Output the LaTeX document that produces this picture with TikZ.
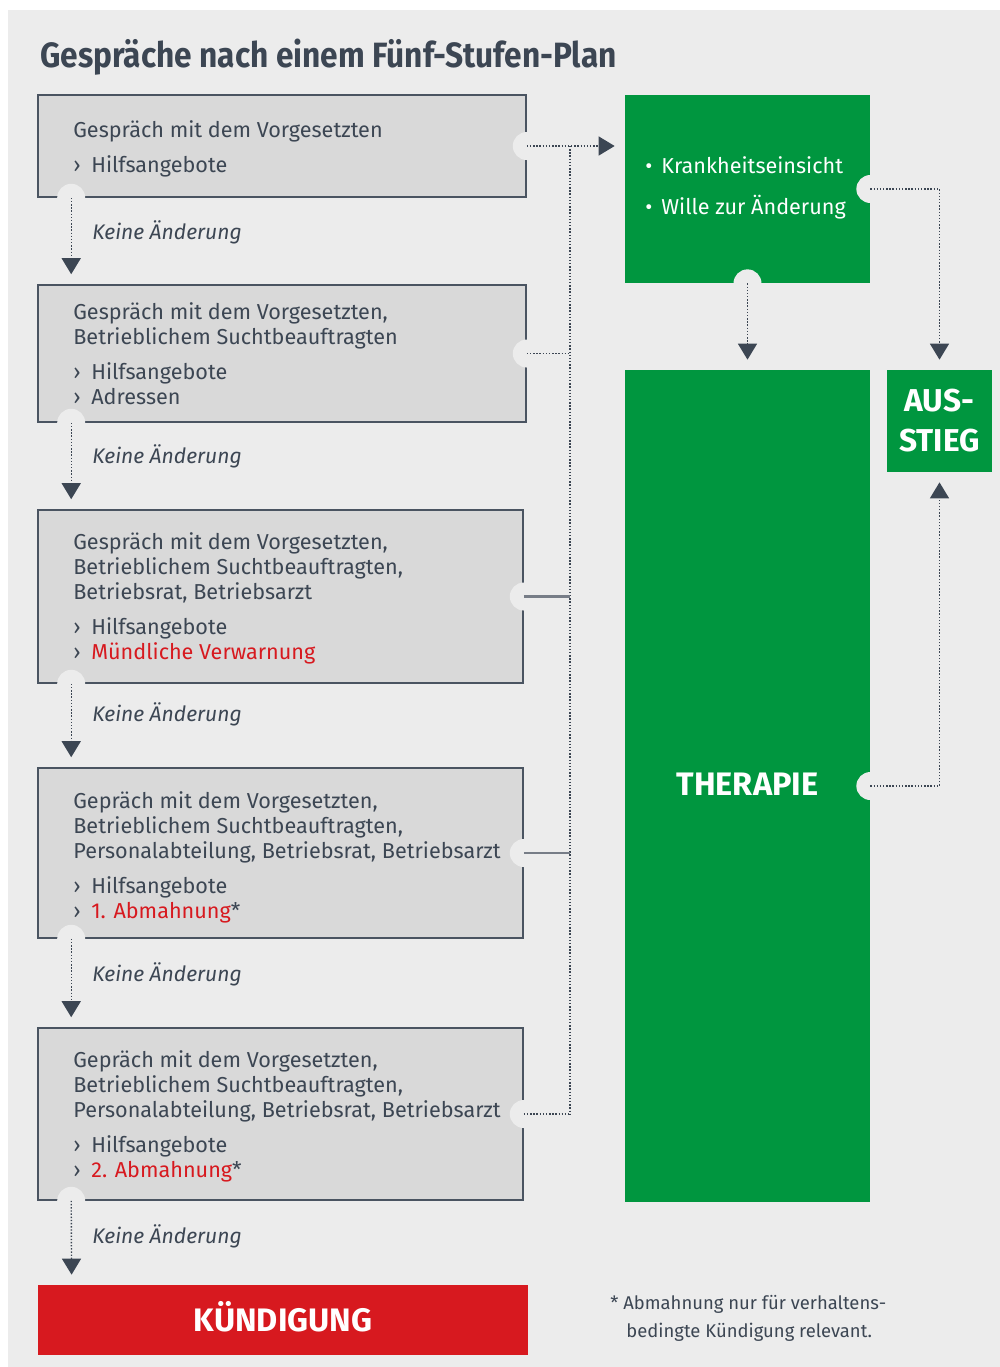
\documentclass[tikz,border=0pt]{standalone}
\usepackage{fontspec}
\setmainfont{Fira Sans}
\newfontfamily\headfont{Fira Sans}[FakeStretch=0.9]
\usetikzlibrary{arrows.meta,calc,fit}

\definecolor{paper}{HTML}{ECECEC}
\definecolor{boxgray}{HTML}{D9D9D9}
\definecolor{edge}{HTML}{4A5461}
\definecolor{ink}{HTML}{3C4653}
\definecolor{ok}{HTML}{00963F}
\definecolor{alarm}{HTML}{D7191F}

% little chevron in front of each measure
\newcommand\more{\makebox[0.36cm][l]{›}}
\newcommand\dotitem{\makebox[0.32cm][l]{•}}

\tikzset{
    stage/.style={draw=edge, fill=boxgray, line width=0.9pt, inner sep=0pt},
    greenbox/.style={fill=ok, inner sep=0pt},
    bigword/.style={inner sep=0pt, text=white, text height=12.8pt, text depth=0pt,
        font=\bfseries\fontsize{18.5}{22.8}\selectfont},
    body/.style={inner sep=0pt, align=left, text=ink,
        font=\fontsize{12.3}{14.23}\selectfont},
    note/.style={anchor=west, inner sep=0pt, text=ink,
        font=\itshape\fontsize{12}{14}\selectfont},
    tip/.style={-{Triangle[length=0.32cm,width=0.38cm]}, shorten >=0.2cm},
    flow/.style={tip, ink, line width=0.8pt, densely dotted},
    link/.style={ink, line width=0.8pt, densely dotted},
    wire/.style={ink!70, line width=1.2pt},
}

\begin{document}
\begin{tikzpicture}[x=0.02cm,y=-0.02cm]
    \useasboundingbox (0,0) rectangle (1000,1367);
    \fill[white] (0,0) rectangle (1000,1367);
    \fill[paper] (8,10) rectangle (1000,1367);

    \node[anchor=base west, inner sep=0pt, text=ink,
        font=\headfont\bfseries\fontsize{20}{24}\selectfont] (title) at (40,67)
        {Gespräche nach einem Fünf-Stufen-Plan};

    % the five talks
    \node[stage, fit={(38,95) (526,197)}] (s1) {};
    \node[stage, fit={(38,285) (526,422)}] (s2) {};
    \node[stage, fit={(38,510) (523,683)}] (s3) {};
    \node[stage, fit={(38,768) (523,938)}] (s4) {};
    \node[stage, fit={(38,1028) (523,1200)}] (s5) {};
    \node[greenbox, fit={(38,1285) (528,1355)}, fill=alarm] (end) {};
    \node[bigword] (endlabel) at (end) {KÜNDIGUNG};

    % right column
    \node[greenbox, fit={(625,95) (870,283)}] (goal) {};
    \node[greenbox, fit={(625,370) (870,1202)}] (therapy) {};
    \node[bigword] (therapylabel) at ($(therapy)+(0,-2)$) {THERAPIE};
    \node[greenbox, fit={(887,370) (992,472)}] (exit) {};
    \node[anchor=base, inner sep=0pt, align=center, text=white,
        font=\bfseries\fontsize{18}{22.8}\selectfont] (exitlabel)
        at ($(exit.south)+(0,-21)$) {AUS-\\STIEG};

    % notches where the lines leave a box
    \foreach \n in {s1,s2,s3,s4,s5} {
        \fill[paper] (\n.east) circle[radius=14];
        \fill[paper] ($(\n.south west)+(34,0)$) circle[radius=14];
    }
    \fill[paper] (goal.east) circle[radius=14];
    \fill[paper] (goal.south) circle[radius=14];
    \fill[paper] (therapy.east) circle[radius=14];

    % box texts (placed by the baseline of their last line)
    \node[body, anchor=base west] (t1) at (73,172)
        {Gespräch mit dem Vorgesetzten\\[5.4pt]
         \more Hilfsangebote};
    \node[body, anchor=base west] (t2) at (73,404)
        {Gespräch mit dem Vorgesetzten,\\
         Betrieblichem Suchtbeauftragten\\[5.4pt]
         \more Hilfsangebote\\
         \more Adressen};
    \node[body, anchor=base west] (t3) at (73,659)
        {Gespräch mit dem Vorgesetzten,\\
         Betrieblichem Suchtbeauftragten,\\
         Betriebsrat, Betriebsarzt\\[5.4pt]
         \more Hilfsangebote\\
         \more{\color{alarm}Mündliche Verwarnung}};
    \node[body, anchor=base west] (t4) at (73,918)
        {Gepräch mit dem Vorgesetzten,\\
         Betrieblichem Suchtbeauftragten,\\
         Personalabteilung, Betriebsrat, Betriebsarzt\\[5.4pt]
         \more Hilfsangebote\\
         \more{\color{alarm}1. Abmahnung}*};
    \node[body, anchor=base west] (t5) at (73,1177)
        {Gepräch mit dem Vorgesetzten,\\
         Betrieblichem Suchtbeauftragten,\\
         Personalabteilung, Betriebsrat, Betriebsarzt\\[5.4pt]
         \more Hilfsangebote\\
         \more{\color{alarm}2. Abmahnung}*};

    \node[body, anchor=base west, text=white,
        font=\fontsize{12.3}{23.3}\selectfont] (why) at (645,214)
        {\dotitem Krankheitseinsicht\\
         \dotitem Wille zur Änderung};

    % no change -> next step
    \node[note] (k1) at (92,232) {Keine Änderung};
    \node[note] (k2) at (92,456) {Keine Änderung};
    \node[note] (k3) at (92,714) {Keine Änderung};
    \node[note] (k4) at (92,974) {Keine Änderung};
    \node[note] (k5) at (92,1236) {Keine Änderung};
    \foreach \a/\b in {s1/s2,s2/s3,s3/s4,s4/s5,s5/end}
        \draw[flow] ($(\a.south west)+(34,0)$) -- ($(\b.north west)+(34,0)$);

    % collecting line to the green box
    \coordinate (bus) at (570,0);
    \draw[link] (s1.east -| bus) -- (s5.east -| bus);
    \draw[flow] (s1.east) -- (s1.east -| goal.west);
    \draw[link] (s2.east) -- (s2.east -| bus);
    \draw[wire] (s3.east) -- (s3.east -| bus);
    \draw[wire] (s4.east) -- (s4.east -| bus);
    \draw[link] (s5.east) -- (s5.east -| bus);

    \draw[flow] (goal.south) -- (therapy.north);
    \draw[flow] (goal.east) -| (exit.north);
    \draw[flow] (therapy.east) -| (exit.south);

    \node[anchor=base west, inner sep=0pt, align=left, text=ink,
        font=\fontsize{10.5}{15.4}\selectfont] (fn) at (610,1337)
        {* Abmahnung nur für verhaltens-\\
         \hspace*{0.32cm}bedingte Kündigung relevant.};
\end{tikzpicture}
\end{document}
